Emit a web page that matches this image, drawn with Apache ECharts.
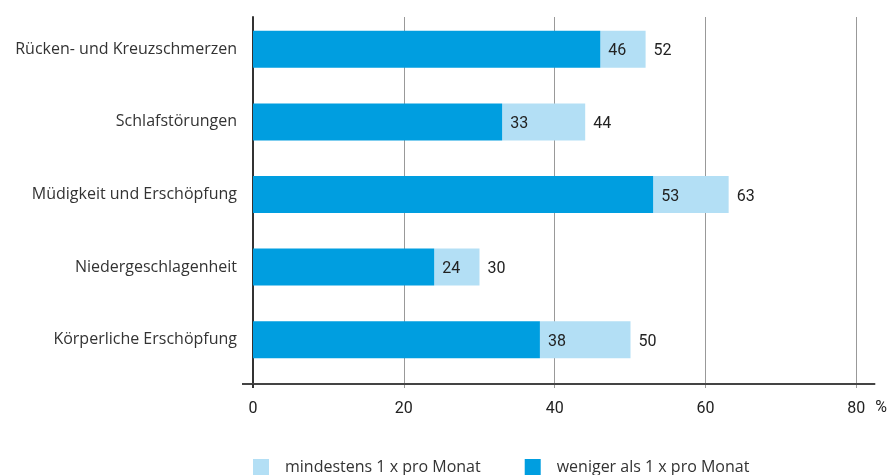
<!DOCTYPE html>
<html><head><meta charset="utf-8">
<script src="https://cdn.jsdelivr.net/npm/echarts@6/dist/echarts.min.js"></script>
<style>html,body{margin:0;padding:0;background:#fff}#c{width:890px;height:475px}</style>
</head><body><div id="c"></div>
<script>
const categories = ['Rücken- und Kreuzschmerzen','Schlafstörungen','Müdigkeit und Erschöpfung','Niedergeschlagenheit','Körperliche Erschöpfung'];
const lessThanMonthly = [46,33,53,24,38];
const totalValues = [52,44,63,30,50];
const xTicks = [0,20,40,60,80];
const seriesNames = ['mindestens 1 x pro Monat','weniger als 1 x pro Monat'];
const monthlyExtra = totalValues.map((t,i)=>t-lessThanMonthly[i]);

const chart = echarts.init(document.getElementById('c'), null, {renderer:'canvas'});
const txt = '#333';
const opt = {
  animation:false,
  textStyle:{fontFamily:'Open Sans'},
  grid:[
    {left:253,right:33,top:17,bottom:91,containLabel:false},
    {left:253,right:33,top:13,bottom:99,containLabel:false}
  ],
  xAxis:[
    {gridIndex:0,type:'value',min:xTicks[0],max:xTicks[xTicks.length-1],interval:20,
     axisLine:{show:false},
     axisTick:{show:true,length:4,lineStyle:{color:'#999',width:1}},
     splitLine:{show:true,lineStyle:{color:'#999',width:1}},
     axisLabel:{margin:17,color:'#222',fontFamily:'Roboto',fontSize:16},
     name:'%',nameLocation:'end',nameGap:19,
     nameTextStyle:{color:'#222',fontFamily:'Roboto',fontSize:16,verticalAlign:'top',padding:[16,0,0,0]}},
    {gridIndex:1,type:'value',min:0,max:80,show:false}
  ],
  yAxis:[
    {gridIndex:0,type:'value',min:0,max:1,axisLabel:{show:false},axisTick:{show:false},splitLine:{show:false},
     axisLine:{show:true,lineStyle:{color:'#333',width:2}}},
    {gridIndex:1,type:'category',inverse:true,data:categories,
     axisLine:{show:false},axisTick:{show:false},
     axisLabel:{margin:16,color:txt,fontFamily:'Open Sans',fontSize:16,padding:[6,0,0,0]}}
  ],
  legend:{left:253,top:459,padding:0,itemWidth:16,itemHeight:16,itemGap:44,
    icon:'rect',data:seriesNames,
    textStyle:{color:txt,fontFamily:'Open Sans',fontSize:16,padding:[0,0,0,11]}},
  series:[
    {name:seriesNames[1],type:'bar',stack:'s',xAxisIndex:1,yAxisIndex:1,barWidth:'51%',z:3,
     data:lessThanMonthly,itemStyle:{color:'#009ee0'},
     label:{show:true,position:'right',distance:8,offset:[0,2],color:'#222',fontFamily:'Roboto',fontSize:16}},
    {name:seriesNames[0],type:'bar',stack:'s',xAxisIndex:1,yAxisIndex:1,barWidth:'51%',z:2,
     data:monthlyExtra,itemStyle:{color:'#b3dff5'},
     label:{show:true,position:'right',distance:8,offset:[0,2],color:'#222',fontFamily:'Roboto',fontSize:16,
       formatter:p=>totalValues[p.dataIndex]}}
  ]
};
chart.setOption(opt);
const x0 = chart.convertToPixel({xAxisIndex:0},0);
const x80 = chart.convertToPixel({xAxisIndex:0},80);
const yb = chart.convertToPixel({yAxisIndex:0},0);
chart.setOption({graphic:[
  {type:'line',shape:{x1:x0-11,y1:yb,x2:x80+19,y2:yb},style:{stroke:'#444',lineWidth:2},z:10},
  {type:'line',shape:{x1:x0,y1:yb,x2:x0,y2:yb+4},style:{stroke:'#333',lineWidth:2},z:10}
]});
</script></body></html>
